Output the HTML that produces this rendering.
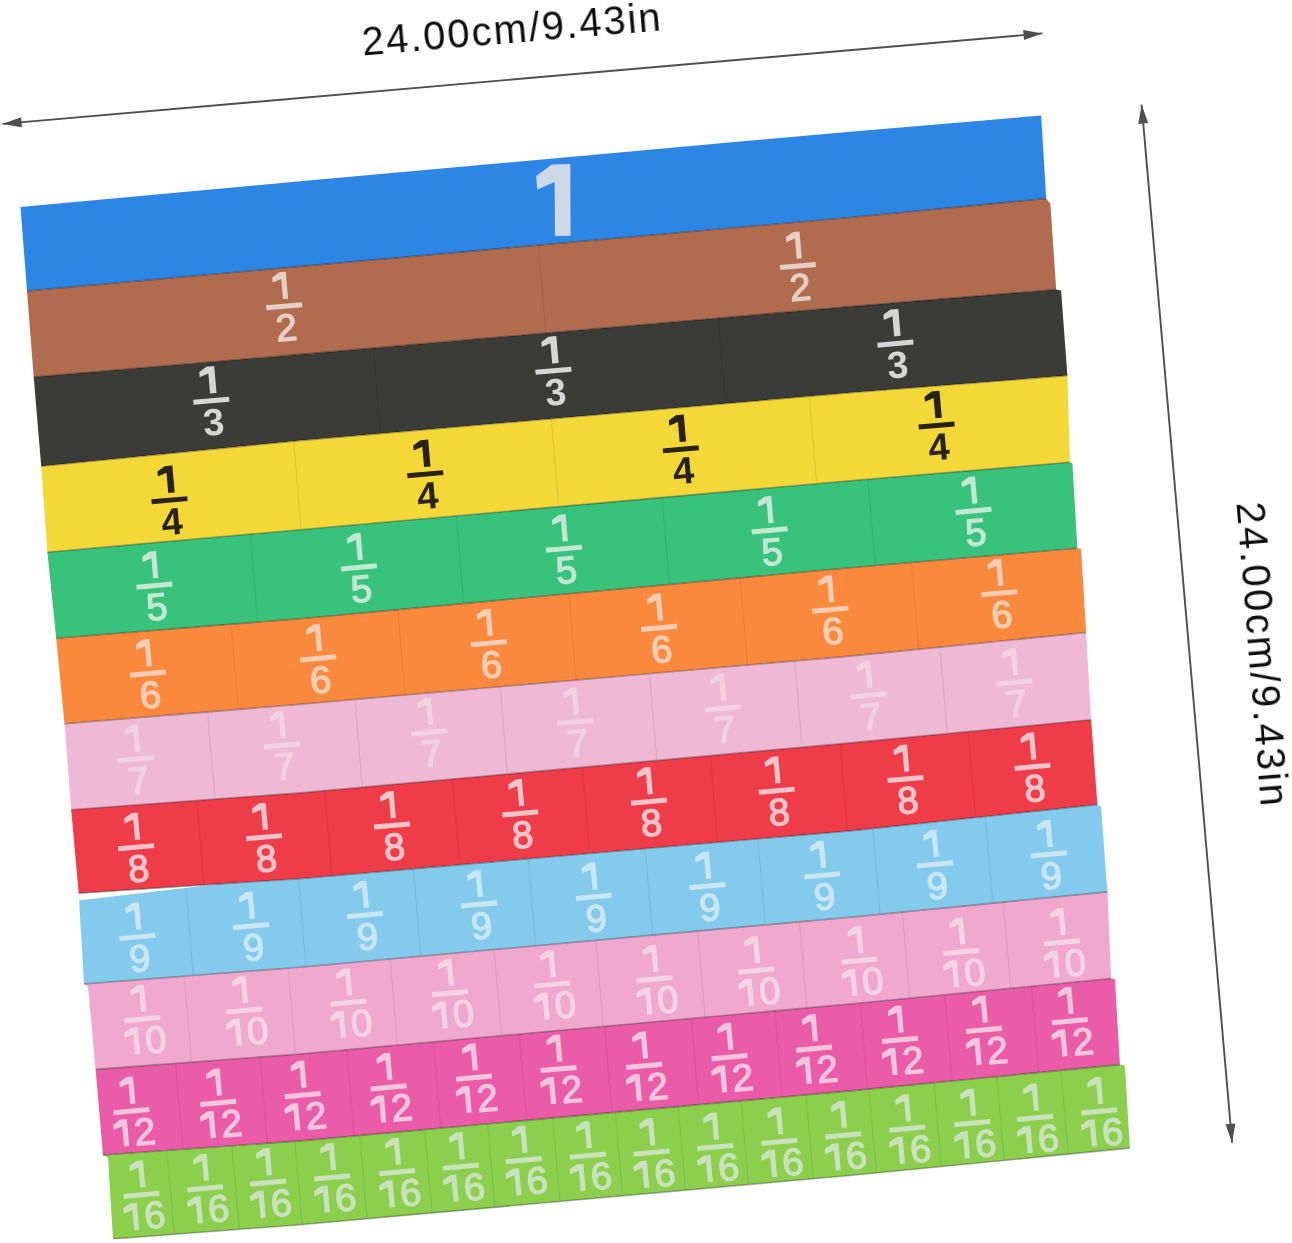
<!DOCTYPE html>
<html><head><meta charset="utf-8"><style>
html,body{margin:0;padding:0;background:#fff;}
body{width:1292px;height:1243px;overflow:hidden;position:relative;}
svg{position:absolute;left:0;top:0;}
text{font-family:"Liberation Sans",sans-serif;}
</style></head><body>
<svg width="1292" height="1243" viewBox="0 0 1292 1243">
<defs><path id="one" d="M0.00 0.00 L5.13 0.00 L5.13 -27.00 L-1.35 -27.00 L-8.91 -22.41 L-8.91 -17.28 L0.00 -20.25Z"/><path id="oneb" d="M0.00 0.00 L6.48 0.00 L6.48 -27.00 L-1.35 -27.00 L-8.91 -22.41 L-8.91 -17.28 L0.00 -20.25Z"/><filter id="soft" x="0" y="0" width="1" height="1"><feGaussianBlur stdDeviation="0.55"/></filter></defs>
<g filter="url(#soft)">

<line x1="2.5" y1="123.9" x2="1042.5" y2="33.4" stroke="#505050" stroke-width="1.9"/>
<polygon points="2.5,123.9 21.9,127.2 21.0,117.3" fill="#505050"/>
<polygon points="1042.5,33.4 1023.1,30.1 1024.0,40.0" fill="#505050"/>
<line x1="1141.6" y1="104.6" x2="1232.1" y2="1142.8" stroke="#505050" stroke-width="1.9"/>
<polygon points="1141.6,104.6 1138.3,124.0 1148.2,123.1" fill="#505050"/>
<polygon points="1232.1,1142.8 1235.4,1123.4 1225.5,1124.3" fill="#505050"/>
<text x="0" y="0" font-size="40" letter-spacing="2.0" fill="#111" transform="translate(363,55.5) rotate(-4.8)">24.00cm/9.43in</text>
<text x="0" y="0" font-size="40" letter-spacing="2.4" fill="#111" transform="translate(1236.5,503) rotate(85.4)">24.00cm/9.43in</text>
<polygon points="20.5,207 300,181.3 850,131.7 1041.2,115.5 1046.2,198.5 850,217.5 300,266.4 27,291" fill="#2f86e4"/>
<polygon points="27,291 300,266.4 850,217.5 1046.2,198.5 1050.4,204 1056.2,289.5 850,306.6 300,354.4 33.7,377" fill="#b16c4f"/>
<polygon points="33.7,377 300,354.4 850,306.6 1056.2,289.5 1061.1,290.5 1067.4,375.6 850,392.8 300,440.6 41.2,466.2" fill="#3b3a38"/>
<polygon points="41.2,466.2 300,440.6 850,392.8 1067.4,375.6 1069.9,462.3 850,480.8 300,529.7 47.4,552.2" fill="#f3d838"/>
<polygon points="47.4,552.2 300,529.7 850,480.8 1069.9,462.3 1072.4,463.3 1077.4,548.3 850,567.7 300,618.7 56.2,638.3" fill="#38c27b"/>
<polygon points="56.2,638.3 300,618.7 850,567.7 1077.4,548.3 1081.1,549 1086.1,632.5 850,656.1 300,704.3 64.5,723.7" fill="#fb893e"/>
<polygon points="64.5,723.7 300,704.3 850,656.1 1086.1,632.5 1091.1,719.8 850,742.9 300,792.9 71.2,809.7" fill="#efb8d4"/>
<polygon points="71.2,809.7 300,792.9 850,742.9 1091.1,719.8 1097.4,804.6 850,830.9 300,878.7 78.7,893.3" fill="#ee3c48"/>
<polygon points="78.7,893.3 300,878.7 850,830.9 1097.4,804.6 1101.1,807 1107.4,891.9 850,917.2 300,967.2 84,984" fill="#84caed"/>
<polygon points="84,984 300,967.2 850,917.2 1107.4,891.9 1111.1,978.5 850,1004 300,1054 95.6,1069.4 88,986.5" fill="#f0a8cf"/>
<polygon points="95.6,1069.4 300,1054 850,1004 1111.1,978.5 1114.9,979 1119.9,1064.6 850,1090.9 300,1140.9 103,1155" fill="#ea5ba8"/>
<polygon points="103,1155 300,1140.9 850,1090.9 1119.9,1064.6 1124.9,1065.2 1129.8,1148.1 850,1175.5 300,1224.8 113,1239 108,1157.4" fill="#8bcf4e"/>
<polygon points="70,894.2 215,884.6 70,901.5" fill="#fff"/>
<polyline points="27,291 300,266.4 850,217.5 1046.2,198.5" fill="none" stroke="#000" stroke-opacity="0.3" stroke-width="1.6"/>
<polygon points="552,164.5 570.3,164 570.6,235.7 555,236 554.6,182 537.3,189.5 536.2,176" fill="#cfd8e6"/>
<line x1="538.3" y1="245.2" x2="545.7" y2="333.0" stroke="#000" stroke-opacity="0.07" stroke-width="1.3"/>
<polyline points="33.7,377 300,354.4 850,306.6 1056.2,289.5" fill="none" stroke="#000" stroke-opacity="0.3" stroke-width="1.6"/>
<g transform="translate(284.2,306.3) rotate(-4.88)" fill="#e6cfc6"><use href="#one" x="-0.6" y="-7.3"/><rect x="-18" y="-2.5" width="36" height="5"/><text x="0.5" y="34.5" font-size="38" stroke="#e6cfc6" stroke-width="1.3" text-anchor="middle">2</text></g>
<g transform="translate(797.9,266.0) rotate(-4.88)" fill="#e6cfc6"><use href="#one" x="-0.6" y="-7.3"/><rect x="-18" y="-2.5" width="36" height="5"/><text x="0.5" y="34.5" font-size="38" stroke="#e6cfc6" stroke-width="1.3" text-anchor="middle">2</text></g>
<line x1="373.3" y1="348.0" x2="380.7" y2="433.6" stroke="#000" stroke-opacity="0.07" stroke-width="1.3"/>
<line x1="718.3" y1="318.0" x2="725.7" y2="403.6" stroke="#000" stroke-opacity="0.07" stroke-width="1.3"/>
<polyline points="41.2,466.2 300,440.6 850,392.8 1067.4,375.6" fill="none" stroke="#000" stroke-opacity="0.3" stroke-width="1.6"/>
<g transform="translate(211.3,400.8) rotate(-4.93)" fill="#d6d6d6"><use href="#oneb" x="-0.6" y="-7.3"/><rect x="-18" y="-2.5" width="36" height="5"/><text x="0.5" y="34.5" font-size="38" font-weight="bold" text-anchor="middle">3</text></g>
<g transform="translate(553.4,370.7) rotate(-4.93)" fill="#d6d6d6"><use href="#oneb" x="-0.6" y="-7.3"/><rect x="-18" y="-2.5" width="36" height="5"/><text x="0.5" y="34.5" font-size="38" font-weight="bold" text-anchor="middle">3</text></g>
<g transform="translate(895.4,343.6) rotate(-4.93)" fill="#d6d6d6"><use href="#oneb" x="-0.6" y="-7.3"/><rect x="-18" y="-2.5" width="36" height="5"/><text x="0.5" y="34.5" font-size="38" font-weight="bold" text-anchor="middle">3</text></g>
<line x1="293.7" y1="441.2" x2="301.1" y2="529.6" stroke="#000" stroke-opacity="0.07" stroke-width="1.3"/>
<line x1="551.3" y1="418.8" x2="558.7" y2="506.7" stroke="#000" stroke-opacity="0.07" stroke-width="1.3"/>
<line x1="809.3" y1="396.3" x2="816.7" y2="483.8" stroke="#000" stroke-opacity="0.07" stroke-width="1.3"/>
<polyline points="47.4,552.2 300,529.7 850,480.8 1069.9,462.3" fill="none" stroke="#000" stroke-opacity="0.3" stroke-width="1.6"/>
<g transform="translate(169.5,500.2) rotate(-5.02)" fill="#2a2418"><use href="#oneb" x="-0.6" y="-7.3"/><rect x="-18" y="-2.5" width="36" height="5"/><text x="0.5" y="34.5" font-size="38" font-weight="bold" text-anchor="middle">4</text></g>
<g transform="translate(425.3,474.2) rotate(-5.02)" fill="#2a2418"><use href="#oneb" x="-0.6" y="-7.3"/><rect x="-18" y="-2.5" width="36" height="5"/><text x="0.5" y="34.5" font-size="38" font-weight="bold" text-anchor="middle">4</text></g>
<g transform="translate(680.9,449.3) rotate(-5.02)" fill="#2a2418"><use href="#oneb" x="-0.6" y="-7.3"/><rect x="-18" y="-2.5" width="36" height="5"/><text x="0.5" y="34.5" font-size="38" font-weight="bold" text-anchor="middle">4</text></g>
<g transform="translate(936.6,425.5) rotate(-5.02)" fill="#2a2418"><use href="#oneb" x="-0.6" y="-7.3"/><rect x="-18" y="-2.5" width="36" height="5"/><text x="0.5" y="34.5" font-size="38" font-weight="bold" text-anchor="middle">4</text></g>
<line x1="250.3" y1="534.1" x2="257.7" y2="622.1" stroke="#000" stroke-opacity="0.07" stroke-width="1.3"/>
<line x1="456.3" y1="515.8" x2="463.7" y2="603.5" stroke="#000" stroke-opacity="0.07" stroke-width="1.3"/>
<line x1="662.0" y1="497.5" x2="669.4" y2="584.4" stroke="#000" stroke-opacity="0.07" stroke-width="1.3"/>
<line x1="867.9" y1="479.3" x2="875.3" y2="565.5" stroke="#000" stroke-opacity="0.07" stroke-width="1.3"/>
<polyline points="56.2,638.3 300,618.7 850,567.7 1077.4,548.3" fill="none" stroke="#000" stroke-opacity="0.3" stroke-width="1.6"/>
<g transform="translate(154.4,585.6) rotate(-5.00)" fill="#c2e8d2"><use href="#one" x="-0.6" y="-7.3"/><rect x="-18" y="-2.5" width="36" height="5"/><text x="0.5" y="34.5" font-size="38" stroke="#c2e8d2" stroke-width="1.3" text-anchor="middle">5</text></g>
<g transform="translate(359.0,567.4) rotate(-5.00)" fill="#c2e8d2"><use href="#one" x="-0.6" y="-7.3"/><rect x="-18" y="-2.5" width="36" height="5"/><text x="0.5" y="34.5" font-size="38" stroke="#c2e8d2" stroke-width="1.3" text-anchor="middle">5</text></g>
<g transform="translate(564.0,548.7) rotate(-5.00)" fill="#c2e8d2"><use href="#one" x="-0.6" y="-7.3"/><rect x="-18" y="-2.5" width="36" height="5"/><text x="0.5" y="34.5" font-size="38" stroke="#c2e8d2" stroke-width="1.3" text-anchor="middle">5</text></g>
<g transform="translate(769.7,530.4) rotate(-5.00)" fill="#c2e8d2"><use href="#one" x="-0.6" y="-7.3"/><rect x="-18" y="-2.5" width="36" height="5"/><text x="0.5" y="34.5" font-size="38" stroke="#c2e8d2" stroke-width="1.3" text-anchor="middle">5</text></g>
<g transform="translate(973.5,510.9) rotate(-5.00)" fill="#c2e8d2"><use href="#one" x="-0.6" y="-7.3"/><rect x="-18" y="-2.5" width="36" height="5"/><text x="0.5" y="34.5" font-size="38" stroke="#c2e8d2" stroke-width="1.3" text-anchor="middle">5</text></g>
<line x1="230.9" y1="624.3" x2="238.3" y2="709.4" stroke="#000" stroke-opacity="0.07" stroke-width="1.3"/>
<line x1="397.7" y1="609.6" x2="405.1" y2="695.1" stroke="#000" stroke-opacity="0.07" stroke-width="1.3"/>
<line x1="568.8" y1="593.8" x2="576.2" y2="680.1" stroke="#000" stroke-opacity="0.07" stroke-width="1.3"/>
<line x1="740.0" y1="577.9" x2="747.4" y2="665.1" stroke="#000" stroke-opacity="0.07" stroke-width="1.3"/>
<line x1="911.3" y1="562.5" x2="918.7" y2="649.2" stroke="#000" stroke-opacity="0.07" stroke-width="1.3"/>
<polyline points="64.5,723.7 300,704.3 850,656.1 1086.1,632.5" fill="none" stroke="#000" stroke-opacity="0.3" stroke-width="1.6"/>
<g transform="translate(147.9,673.6) rotate(-5.04)" fill="#f9cdb3"><use href="#one" x="-0.6" y="-7.3"/><rect x="-18" y="-2.5" width="36" height="5"/><text x="0.5" y="34.5" font-size="38" stroke="#f9cdb3" stroke-width="1.3" text-anchor="middle">6</text></g>
<g transform="translate(318.2,658.4) rotate(-5.04)" fill="#f9cdb3"><use href="#one" x="-0.6" y="-7.3"/><rect x="-18" y="-2.5" width="36" height="5"/><text x="0.5" y="34.5" font-size="38" stroke="#f9cdb3" stroke-width="1.3" text-anchor="middle">6</text></g>
<g transform="translate(489.0,643.2) rotate(-5.04)" fill="#f9cdb3"><use href="#one" x="-0.6" y="-7.3"/><rect x="-18" y="-2.5" width="36" height="5"/><text x="0.5" y="34.5" font-size="38" stroke="#f9cdb3" stroke-width="1.3" text-anchor="middle">6</text></g>
<g transform="translate(659.2,627.9) rotate(-5.04)" fill="#f9cdb3"><use href="#one" x="-0.6" y="-7.3"/><rect x="-18" y="-2.5" width="36" height="5"/><text x="0.5" y="34.5" font-size="38" stroke="#f9cdb3" stroke-width="1.3" text-anchor="middle">6</text></g>
<g transform="translate(830.4,609.7) rotate(-5.04)" fill="#f9cdb3"><use href="#one" x="-0.6" y="-7.3"/><rect x="-18" y="-2.5" width="36" height="5"/><text x="0.5" y="34.5" font-size="38" stroke="#f9cdb3" stroke-width="1.3" text-anchor="middle">6</text></g>
<g transform="translate(999.5,593.2) rotate(-5.04)" fill="#f9cdb3"><use href="#one" x="-0.6" y="-7.3"/><rect x="-18" y="-2.5" width="36" height="5"/><text x="0.5" y="34.5" font-size="38" stroke="#f9cdb3" stroke-width="1.3" text-anchor="middle">6</text></g>
<line x1="207.5" y1="711.9" x2="214.9" y2="799.1" stroke="#000" stroke-opacity="0.07" stroke-width="1.3"/>
<line x1="354.9" y1="699.5" x2="362.3" y2="787.2" stroke="#000" stroke-opacity="0.07" stroke-width="1.3"/>
<line x1="500.1" y1="686.8" x2="507.5" y2="774.0" stroke="#000" stroke-opacity="0.07" stroke-width="1.3"/>
<line x1="649.5" y1="673.7" x2="656.9" y2="760.5" stroke="#000" stroke-opacity="0.07" stroke-width="1.3"/>
<line x1="794.7" y1="660.9" x2="802.1" y2="747.3" stroke="#000" stroke-opacity="0.07" stroke-width="1.3"/>
<line x1="939.9" y1="647.1" x2="947.3" y2="733.6" stroke="#000" stroke-opacity="0.07" stroke-width="1.3"/>
<polyline points="71.2,809.7 300,792.9 850,742.9 1091.1,719.8" fill="none" stroke="#000" stroke-opacity="0.3" stroke-width="1.6"/>
<g transform="translate(136.2,759.2) rotate(-5.06)" fill="#f2d1e3"><use href="#one" x="-0.6" y="-7.3"/><rect x="-18" y="-2.5" width="36" height="5"/><text x="0.5" y="34.5" font-size="38" stroke="#f2d1e3" stroke-width="1.3" text-anchor="middle">7</text></g>
<g transform="translate(281.9,745.3) rotate(-5.06)" fill="#f2d1e3"><use href="#one" x="-0.6" y="-7.3"/><rect x="-18" y="-2.5" width="36" height="5"/><text x="0.5" y="34.5" font-size="38" stroke="#f2d1e3" stroke-width="1.3" text-anchor="middle">7</text></g>
<g transform="translate(429.3,732.3) rotate(-5.06)" fill="#f2d1e3"><use href="#one" x="-0.6" y="-7.3"/><rect x="-18" y="-2.5" width="36" height="5"/><text x="0.5" y="34.5" font-size="38" stroke="#f2d1e3" stroke-width="1.3" text-anchor="middle">7</text></g>
<g transform="translate(575.2,722.0) rotate(-5.06)" fill="#f2d1e3"><use href="#one" x="-0.6" y="-7.3"/><rect x="-18" y="-2.5" width="36" height="5"/><text x="0.5" y="34.5" font-size="38" stroke="#f2d1e3" stroke-width="1.3" text-anchor="middle">7</text></g>
<g transform="translate(722.5,708.4) rotate(-5.06)" fill="#f2d1e3"><use href="#one" x="-0.6" y="-7.3"/><rect x="-18" y="-2.5" width="36" height="5"/><text x="0.5" y="34.5" font-size="38" stroke="#f2d1e3" stroke-width="1.3" text-anchor="middle">7</text></g>
<g transform="translate(868.6,695.4) rotate(-5.06)" fill="#f2d1e3"><use href="#one" x="-0.6" y="-7.3"/><rect x="-18" y="-2.5" width="36" height="5"/><text x="0.5" y="34.5" font-size="38" stroke="#f2d1e3" stroke-width="1.3" text-anchor="middle">7</text></g>
<g transform="translate(1014.3,682.4) rotate(-5.06)" fill="#f2d1e3"><use href="#one" x="-0.6" y="-7.3"/><rect x="-18" y="-2.5" width="36" height="5"/><text x="0.5" y="34.5" font-size="38" stroke="#f2d1e3" stroke-width="1.3" text-anchor="middle">7</text></g>
<line x1="196.7" y1="800.5" x2="204.1" y2="885.0" stroke="#000" stroke-opacity="0.07" stroke-width="1.3"/>
<line x1="324.6" y1="790.7" x2="332.0" y2="875.9" stroke="#000" stroke-opacity="0.07" stroke-width="1.3"/>
<line x1="452.4" y1="779.0" x2="459.8" y2="864.8" stroke="#000" stroke-opacity="0.07" stroke-width="1.3"/>
<line x1="582.3" y1="767.2" x2="589.7" y2="853.5" stroke="#000" stroke-opacity="0.07" stroke-width="1.3"/>
<line x1="710.2" y1="755.6" x2="717.6" y2="842.4" stroke="#000" stroke-opacity="0.07" stroke-width="1.3"/>
<line x1="840.2" y1="743.8" x2="847.6" y2="831.1" stroke="#000" stroke-opacity="0.07" stroke-width="1.3"/>
<line x1="968.1" y1="731.6" x2="975.5" y2="817.6" stroke="#000" stroke-opacity="0.07" stroke-width="1.3"/>
<polyline points="78.7,893.3 300,878.7 850,830.9 1097.4,804.6" fill="none" stroke="#000" stroke-opacity="0.3" stroke-width="1.6"/>
<g transform="translate(136.2,847.2) rotate(-4.99)" fill="#f4c4ca"><use href="#one" x="-0.6" y="-7.3"/><rect x="-18" y="-2.5" width="36" height="5"/><text x="0.5" y="34.5" font-size="38" stroke="#f4c4ca" stroke-width="1.3" text-anchor="middle">8</text></g>
<g transform="translate(264.1,837.2) rotate(-4.99)" fill="#f4c4ca"><use href="#one" x="-0.6" y="-7.3"/><rect x="-18" y="-2.5" width="36" height="5"/><text x="0.5" y="34.5" font-size="38" stroke="#f4c4ca" stroke-width="1.3" text-anchor="middle">8</text></g>
<g transform="translate(392.0,825.5) rotate(-4.99)" fill="#f4c4ca"><use href="#one" x="-0.6" y="-7.3"/><rect x="-18" y="-2.5" width="36" height="5"/><text x="0.5" y="34.5" font-size="38" stroke="#f4c4ca" stroke-width="1.3" text-anchor="middle">8</text></g>
<g transform="translate(520.3,813.4) rotate(-4.99)" fill="#f4c4ca"><use href="#one" x="-0.6" y="-7.3"/><rect x="-18" y="-2.5" width="36" height="5"/><text x="0.5" y="34.5" font-size="38" stroke="#f4c4ca" stroke-width="1.3" text-anchor="middle">8</text></g>
<g transform="translate(648.9,801.6) rotate(-4.99)" fill="#f4c4ca"><use href="#one" x="-0.6" y="-7.3"/><rect x="-18" y="-2.5" width="36" height="5"/><text x="0.5" y="34.5" font-size="38" stroke="#f4c4ca" stroke-width="1.3" text-anchor="middle">8</text></g>
<g transform="translate(776.7,790.7) rotate(-4.99)" fill="#f4c4ca"><use href="#one" x="-0.6" y="-7.3"/><rect x="-18" y="-2.5" width="36" height="5"/><text x="0.5" y="34.5" font-size="38" stroke="#f4c4ca" stroke-width="1.3" text-anchor="middle">8</text></g>
<g transform="translate(905.5,779.0) rotate(-4.99)" fill="#f4c4ca"><use href="#one" x="-0.6" y="-7.3"/><rect x="-18" y="-2.5" width="36" height="5"/><text x="0.5" y="34.5" font-size="38" stroke="#f4c4ca" stroke-width="1.3" text-anchor="middle">8</text></g>
<g transform="translate(1032.5,766.9) rotate(-4.99)" fill="#f4c4ca"><use href="#one" x="-0.6" y="-7.3"/><rect x="-18" y="-2.5" width="36" height="5"/><text x="0.5" y="34.5" font-size="38" stroke="#f4c4ca" stroke-width="1.3" text-anchor="middle">8</text></g>
<line x1="185.8" y1="886.2" x2="193.2" y2="975.5" stroke="#000" stroke-opacity="0.07" stroke-width="1.3"/>
<line x1="298.5" y1="878.8" x2="305.9" y2="966.7" stroke="#000" stroke-opacity="0.07" stroke-width="1.3"/>
<line x1="413.4" y1="868.8" x2="420.8" y2="956.2" stroke="#000" stroke-opacity="0.07" stroke-width="1.3"/>
<line x1="528.3" y1="858.9" x2="535.7" y2="945.8" stroke="#000" stroke-opacity="0.07" stroke-width="1.3"/>
<line x1="645.2" y1="848.7" x2="652.6" y2="935.1" stroke="#000" stroke-opacity="0.07" stroke-width="1.3"/>
<line x1="757.9" y1="838.9" x2="765.3" y2="924.9" stroke="#000" stroke-opacity="0.07" stroke-width="1.3"/>
<line x1="872.7" y1="828.5" x2="880.1" y2="914.2" stroke="#000" stroke-opacity="0.07" stroke-width="1.3"/>
<line x1="985.4" y1="816.5" x2="992.8" y2="903.2" stroke="#000" stroke-opacity="0.07" stroke-width="1.3"/>
<polyline points="84,984 300,967.2 850,917.2 1107.4,891.9" fill="none" stroke="#000" stroke-opacity="0.3" stroke-width="1.6"/>
<g transform="translate(137.5,937.0) rotate(-5.20)" fill="#c9e6f4"><use href="#one" x="-0.6" y="-7.3"/><rect x="-18" y="-2.5" width="36" height="5"/><text x="0.5" y="34.5" font-size="38" stroke="#c9e6f4" stroke-width="1.3" text-anchor="middle">9</text></g>
<g transform="translate(251.1,926.1) rotate(-5.20)" fill="#c9e6f4"><use href="#one" x="-0.6" y="-7.3"/><rect x="-18" y="-2.5" width="36" height="5"/><text x="0.5" y="34.5" font-size="38" stroke="#c9e6f4" stroke-width="1.3" text-anchor="middle">9</text></g>
<g transform="translate(365.1,915.2) rotate(-5.20)" fill="#c9e6f4"><use href="#one" x="-0.6" y="-7.3"/><rect x="-18" y="-2.5" width="36" height="5"/><text x="0.5" y="34.5" font-size="38" stroke="#c9e6f4" stroke-width="1.3" text-anchor="middle">9</text></g>
<g transform="translate(479.1,904.4) rotate(-5.20)" fill="#c9e6f4"><use href="#one" x="-0.6" y="-7.3"/><rect x="-18" y="-2.5" width="36" height="5"/><text x="0.5" y="34.5" font-size="38" stroke="#c9e6f4" stroke-width="1.3" text-anchor="middle">9</text></g>
<g transform="translate(593.8,896.9) rotate(-5.20)" fill="#c9e6f4"><use href="#one" x="-0.6" y="-7.3"/><rect x="-18" y="-2.5" width="36" height="5"/><text x="0.5" y="34.5" font-size="38" stroke="#c9e6f4" stroke-width="1.3" text-anchor="middle">9</text></g>
<g transform="translate(707.4,886.1) rotate(-5.20)" fill="#c9e6f4"><use href="#one" x="-0.6" y="-7.3"/><rect x="-18" y="-2.5" width="36" height="5"/><text x="0.5" y="34.5" font-size="38" stroke="#c9e6f4" stroke-width="1.3" text-anchor="middle">9</text></g>
<g transform="translate(822.2,875.3) rotate(-5.20)" fill="#c9e6f4"><use href="#one" x="-0.6" y="-7.3"/><rect x="-18" y="-2.5" width="36" height="5"/><text x="0.5" y="34.5" font-size="38" stroke="#c9e6f4" stroke-width="1.3" text-anchor="middle">9</text></g>
<g transform="translate(935.0,864.4) rotate(-5.20)" fill="#c9e6f4"><use href="#one" x="-0.6" y="-7.3"/><rect x="-18" y="-2.5" width="36" height="5"/><text x="0.5" y="34.5" font-size="38" stroke="#c9e6f4" stroke-width="1.3" text-anchor="middle">9</text></g>
<g transform="translate(1049.0,854.4) rotate(-5.20)" fill="#c9e6f4"><use href="#one" x="-0.6" y="-7.3"/><rect x="-18" y="-2.5" width="36" height="5"/><text x="0.5" y="34.5" font-size="38" stroke="#c9e6f4" stroke-width="1.3" text-anchor="middle">9</text></g>
<line x1="184.2" y1="976.2" x2="191.6" y2="1062.2" stroke="#000" stroke-opacity="0.07" stroke-width="1.3"/>
<line x1="288.2" y1="968.1" x2="295.6" y2="1054.3" stroke="#000" stroke-opacity="0.07" stroke-width="1.3"/>
<line x1="390.1" y1="959.0" x2="397.5" y2="1045.1" stroke="#000" stroke-opacity="0.07" stroke-width="1.3"/>
<line x1="494.1" y1="949.6" x2="501.5" y2="1035.7" stroke="#000" stroke-opacity="0.07" stroke-width="1.3"/>
<line x1="595.9" y1="940.3" x2="603.3" y2="1026.4" stroke="#000" stroke-opacity="0.07" stroke-width="1.3"/>
<line x1="697.7" y1="931.0" x2="705.1" y2="1017.2" stroke="#000" stroke-opacity="0.07" stroke-width="1.3"/>
<line x1="799.5" y1="921.8" x2="806.9" y2="1007.9" stroke="#000" stroke-opacity="0.07" stroke-width="1.3"/>
<line x1="902.3" y1="912.1" x2="909.7" y2="998.2" stroke="#000" stroke-opacity="0.07" stroke-width="1.3"/>
<line x1="1003.3" y1="902.1" x2="1010.7" y2="988.3" stroke="#000" stroke-opacity="0.07" stroke-width="1.3"/>
<polyline points="95.6,1069.4 300,1054 850,1004 1111.1,978.5" fill="none" stroke="#000" stroke-opacity="0.3" stroke-width="1.6"/>
<g transform="translate(142.4,1019.2) rotate(-5.16)" fill="#f3d3e5"><use href="#one" x="-0.6" y="-7.3"/><rect x="-18" y="-2.5" width="36" height="5"/><use href="#one" x="-10.5" y="34.5" transform="scale(1)"/><text x="11.5" y="34.5" font-size="38" stroke="#f3d3e5" stroke-width="1.3" text-anchor="middle">0</text></g>
<g transform="translate(244.2,1010.5) rotate(-5.16)" fill="#f3d3e5"><use href="#one" x="-0.6" y="-7.3"/><rect x="-18" y="-2.5" width="36" height="5"/><use href="#one" x="-10.5" y="34.5" transform="scale(1)"/><text x="11.5" y="34.5" font-size="38" stroke="#f3d3e5" stroke-width="1.3" text-anchor="middle">0</text></g>
<g transform="translate(348.3,1002.7) rotate(-5.16)" fill="#f3d3e5"><use href="#one" x="-0.6" y="-7.3"/><rect x="-18" y="-2.5" width="36" height="5"/><use href="#one" x="-10.5" y="34.5" transform="scale(1)"/><text x="11.5" y="34.5" font-size="38" stroke="#f3d3e5" stroke-width="1.3" text-anchor="middle">0</text></g>
<g transform="translate(450.1,993.2) rotate(-5.16)" fill="#f3d3e5"><use href="#one" x="-0.6" y="-7.3"/><rect x="-18" y="-2.5" width="36" height="5"/><use href="#one" x="-10.5" y="34.5" transform="scale(1)"/><text x="11.5" y="34.5" font-size="38" stroke="#f3d3e5" stroke-width="1.3" text-anchor="middle">0</text></g>
<g transform="translate(552.0,984.5) rotate(-5.16)" fill="#f3d3e5"><use href="#one" x="-0.6" y="-7.3"/><rect x="-18" y="-2.5" width="36" height="5"/><use href="#one" x="-10.5" y="34.5" transform="scale(1)"/><text x="11.5" y="34.5" font-size="38" stroke="#f3d3e5" stroke-width="1.3" text-anchor="middle">0</text></g>
<g transform="translate(654.6,979.2) rotate(-5.16)" fill="#f3d3e5"><use href="#one" x="-0.6" y="-7.3"/><rect x="-18" y="-2.5" width="36" height="5"/><use href="#one" x="-10.5" y="34.5" transform="scale(1)"/><text x="11.5" y="34.5" font-size="38" stroke="#f3d3e5" stroke-width="1.3" text-anchor="middle">0</text></g>
<g transform="translate(756.4,970.5) rotate(-5.16)" fill="#f3d3e5"><use href="#one" x="-0.6" y="-7.3"/><rect x="-18" y="-2.5" width="36" height="5"/><use href="#one" x="-10.5" y="34.5" transform="scale(1)"/><text x="11.5" y="34.5" font-size="38" stroke="#f3d3e5" stroke-width="1.3" text-anchor="middle">0</text></g>
<g transform="translate(859.6,960.6) rotate(-5.16)" fill="#f3d3e5"><use href="#one" x="-0.6" y="-7.3"/><rect x="-18" y="-2.5" width="36" height="5"/><use href="#one" x="-10.5" y="34.5" transform="scale(1)"/><text x="11.5" y="34.5" font-size="38" stroke="#f3d3e5" stroke-width="1.3" text-anchor="middle">0</text></g>
<g transform="translate(961.4,951.9) rotate(-5.16)" fill="#f3d3e5"><use href="#one" x="-0.6" y="-7.3"/><rect x="-18" y="-2.5" width="36" height="5"/><use href="#one" x="-10.5" y="34.5" transform="scale(1)"/><text x="11.5" y="34.5" font-size="38" stroke="#f3d3e5" stroke-width="1.3" text-anchor="middle">0</text></g>
<g transform="translate(1062.0,942.4) rotate(-5.16)" fill="#f3d3e5"><use href="#one" x="-0.6" y="-7.3"/><rect x="-18" y="-2.5" width="36" height="5"/><use href="#one" x="-10.5" y="34.5" transform="scale(1)"/><text x="11.5" y="34.5" font-size="38" stroke="#f3d3e5" stroke-width="1.3" text-anchor="middle">0</text></g>
<line x1="175.5" y1="1063.4" x2="182.9" y2="1149.3" stroke="#000" stroke-opacity="0.07" stroke-width="1.3"/>
<line x1="260.0" y1="1057.0" x2="267.4" y2="1143.2" stroke="#000" stroke-opacity="0.07" stroke-width="1.3"/>
<line x1="346.7" y1="1049.8" x2="354.1" y2="1136.0" stroke="#000" stroke-opacity="0.07" stroke-width="1.3"/>
<line x1="433.4" y1="1041.9" x2="440.8" y2="1128.1" stroke="#000" stroke-opacity="0.07" stroke-width="1.3"/>
<line x1="519.2" y1="1034.1" x2="526.6" y2="1120.3" stroke="#000" stroke-opacity="0.07" stroke-width="1.3"/>
<line x1="604.5" y1="1026.3" x2="611.9" y2="1112.5" stroke="#000" stroke-opacity="0.07" stroke-width="1.3"/>
<line x1="691.2" y1="1018.4" x2="698.6" y2="1104.7" stroke="#000" stroke-opacity="0.07" stroke-width="1.3"/>
<line x1="774.8" y1="1010.8" x2="782.2" y2="1097.1" stroke="#000" stroke-opacity="0.07" stroke-width="1.3"/>
<line x1="860.2" y1="1003.0" x2="867.6" y2="1089.2" stroke="#000" stroke-opacity="0.07" stroke-width="1.3"/>
<line x1="944.7" y1="994.8" x2="952.1" y2="1081.0" stroke="#000" stroke-opacity="0.07" stroke-width="1.3"/>
<line x1="1031.4" y1="986.3" x2="1038.8" y2="1072.5" stroke="#000" stroke-opacity="0.07" stroke-width="1.3"/>
<polyline points="103,1155 300,1140.9 850,1090.9 1119.9,1064.6" fill="none" stroke="#000" stroke-opacity="0.3" stroke-width="1.6"/>
<g transform="translate(131.5,1111.1) rotate(-5.07)" fill="#f4c6de"><use href="#one" x="-0.6" y="-7.3"/><rect x="-18" y="-2.5" width="36" height="5"/><use href="#one" x="-10.5" y="34.5" transform="scale(1)"/><text x="11.5" y="34.5" font-size="38" stroke="#f4c6de" stroke-width="1.3" text-anchor="middle">2</text></g>
<g transform="translate(218.2,1102.9) rotate(-5.07)" fill="#f4c6de"><use href="#one" x="-0.6" y="-7.3"/><rect x="-18" y="-2.5" width="36" height="5"/><use href="#one" x="-10.5" y="34.5" transform="scale(1)"/><text x="11.5" y="34.5" font-size="38" stroke="#f4c6de" stroke-width="1.3" text-anchor="middle">2</text></g>
<g transform="translate(302.7,1095.1) rotate(-5.07)" fill="#f4c6de"><use href="#one" x="-0.6" y="-7.3"/><rect x="-18" y="-2.5" width="36" height="5"/><use href="#one" x="-10.5" y="34.5" transform="scale(1)"/><text x="11.5" y="34.5" font-size="38" stroke="#f4c6de" stroke-width="1.3" text-anchor="middle">2</text></g>
<g transform="translate(388.6,1087.3) rotate(-5.07)" fill="#f4c6de"><use href="#one" x="-0.6" y="-7.3"/><rect x="-18" y="-2.5" width="36" height="5"/><use href="#one" x="-10.5" y="34.5" transform="scale(1)"/><text x="11.5" y="34.5" font-size="38" stroke="#f4c6de" stroke-width="1.3" text-anchor="middle">2</text></g>
<g transform="translate(474.0,1077.7) rotate(-5.07)" fill="#f4c6de"><use href="#one" x="-0.6" y="-7.3"/><rect x="-18" y="-2.5" width="36" height="5"/><use href="#one" x="-10.5" y="34.5" transform="scale(1)"/><text x="11.5" y="34.5" font-size="38" stroke="#f4c6de" stroke-width="1.3" text-anchor="middle">2</text></g>
<g transform="translate(558.5,1069.0) rotate(-5.07)" fill="#f4c6de"><use href="#one" x="-0.6" y="-7.3"/><rect x="-18" y="-2.5" width="36" height="5"/><use href="#one" x="-10.5" y="34.5" transform="scale(1)"/><text x="11.5" y="34.5" font-size="38" stroke="#f4c6de" stroke-width="1.3" text-anchor="middle">2</text></g>
<g transform="translate(644.2,1065.9) rotate(-5.07)" fill="#f4c6de"><use href="#one" x="-0.6" y="-7.3"/><rect x="-18" y="-2.5" width="36" height="5"/><use href="#one" x="-10.5" y="34.5" transform="scale(1)"/><text x="11.5" y="34.5" font-size="38" stroke="#f4c6de" stroke-width="1.3" text-anchor="middle">2</text></g>
<g transform="translate(729.5,1057.2) rotate(-5.07)" fill="#f4c6de"><use href="#one" x="-0.6" y="-7.3"/><rect x="-18" y="-2.5" width="36" height="5"/><use href="#one" x="-10.5" y="34.5" transform="scale(1)"/><text x="11.5" y="34.5" font-size="38" stroke="#f4c6de" stroke-width="1.3" text-anchor="middle">2</text></g>
<g transform="translate(814.1,1048.6) rotate(-5.07)" fill="#f4c6de"><use href="#one" x="-0.6" y="-7.3"/><rect x="-18" y="-2.5" width="36" height="5"/><use href="#one" x="-10.5" y="34.5" transform="scale(1)"/><text x="11.5" y="34.5" font-size="38" stroke="#f4c6de" stroke-width="1.3" text-anchor="middle">2</text></g>
<g transform="translate(899.9,1039.9) rotate(-5.07)" fill="#f4c6de"><use href="#one" x="-0.6" y="-7.3"/><rect x="-18" y="-2.5" width="36" height="5"/><use href="#one" x="-10.5" y="34.5" transform="scale(1)"/><text x="11.5" y="34.5" font-size="38" stroke="#f4c6de" stroke-width="1.3" text-anchor="middle">2</text></g>
<g transform="translate(984.0,1029.9) rotate(-5.07)" fill="#f4c6de"><use href="#one" x="-0.6" y="-7.3"/><rect x="-18" y="-2.5" width="36" height="5"/><use href="#one" x="-10.5" y="34.5" transform="scale(1)"/><text x="11.5" y="34.5" font-size="38" stroke="#f4c6de" stroke-width="1.3" text-anchor="middle">2</text></g>
<g transform="translate(1069.8,1021.2) rotate(-5.07)" fill="#f4c6de"><use href="#one" x="-0.6" y="-7.3"/><rect x="-18" y="-2.5" width="36" height="5"/><use href="#one" x="-10.5" y="34.5" transform="scale(1)"/><text x="11.5" y="34.5" font-size="38" stroke="#f4c6de" stroke-width="1.3" text-anchor="middle">2</text></g>
<line x1="166.8" y1="1150.4" x2="174.2" y2="1234.4" stroke="#000" stroke-opacity="0.07" stroke-width="1.3"/>
<line x1="231.8" y1="1145.8" x2="239.2" y2="1229.4" stroke="#000" stroke-opacity="0.07" stroke-width="1.3"/>
<line x1="294.7" y1="1141.3" x2="302.1" y2="1224.6" stroke="#000" stroke-opacity="0.07" stroke-width="1.3"/>
<line x1="359.7" y1="1135.5" x2="367.1" y2="1218.8" stroke="#000" stroke-opacity="0.07" stroke-width="1.3"/>
<line x1="424.7" y1="1129.6" x2="432.1" y2="1213.0" stroke="#000" stroke-opacity="0.07" stroke-width="1.3"/>
<line x1="487.6" y1="1123.8" x2="495.0" y2="1207.3" stroke="#000" stroke-opacity="0.07" stroke-width="1.3"/>
<line x1="552.6" y1="1117.9" x2="560.0" y2="1201.5" stroke="#000" stroke-opacity="0.07" stroke-width="1.3"/>
<line x1="615.3" y1="1112.2" x2="622.7" y2="1195.9" stroke="#000" stroke-opacity="0.07" stroke-width="1.3"/>
<line x1="678.2" y1="1106.5" x2="685.6" y2="1190.2" stroke="#000" stroke-opacity="0.07" stroke-width="1.3"/>
<line x1="741.0" y1="1100.8" x2="748.4" y2="1184.6" stroke="#000" stroke-opacity="0.07" stroke-width="1.3"/>
<line x1="806.0" y1="1094.9" x2="813.4" y2="1178.8" stroke="#000" stroke-opacity="0.07" stroke-width="1.3"/>
<line x1="868.9" y1="1089.1" x2="876.3" y2="1172.9" stroke="#000" stroke-opacity="0.07" stroke-width="1.3"/>
<line x1="933.9" y1="1082.7" x2="941.3" y2="1166.6" stroke="#000" stroke-opacity="0.07" stroke-width="1.3"/>
<line x1="996.8" y1="1076.6" x2="1004.2" y2="1160.4" stroke="#000" stroke-opacity="0.07" stroke-width="1.3"/>
<line x1="1060.9" y1="1070.3" x2="1068.3" y2="1154.1" stroke="#000" stroke-opacity="0.07" stroke-width="1.3"/>
<polyline points="113,1239 300,1224.8 850,1175.5 1129.8,1148.1" fill="none" stroke="#000" stroke-opacity="0.3" stroke-width="1.6"/>
<g transform="translate(141.5,1194.8) rotate(-5.14)" fill="#c9e2bb"><use href="#one" x="-0.6" y="-7.3"/><rect x="-18" y="-2.5" width="36" height="5"/><use href="#one" x="-10.5" y="34.5" transform="scale(1)"/><text x="11.5" y="34.5" font-size="38" stroke="#c9e2bb" stroke-width="1.3" text-anchor="middle">6</text></g>
<g transform="translate(205.2,1188.3) rotate(-5.14)" fill="#c9e2bb"><use href="#one" x="-0.6" y="-7.3"/><rect x="-18" y="-2.5" width="36" height="5"/><use href="#one" x="-10.5" y="34.5" transform="scale(1)"/><text x="11.5" y="34.5" font-size="38" stroke="#c9e2bb" stroke-width="1.3" text-anchor="middle">6</text></g>
<g transform="translate(268.1,1182.6) rotate(-5.14)" fill="#c9e2bb"><use href="#one" x="-0.6" y="-7.3"/><rect x="-18" y="-2.5" width="36" height="5"/><use href="#one" x="-10.5" y="34.5" transform="scale(1)"/><text x="11.5" y="34.5" font-size="38" stroke="#c9e2bb" stroke-width="1.3" text-anchor="middle">6</text></g>
<g transform="translate(332.2,1177.4) rotate(-5.14)" fill="#c9e2bb"><use href="#one" x="-0.6" y="-7.3"/><rect x="-18" y="-2.5" width="36" height="5"/><use href="#one" x="-10.5" y="34.5" transform="scale(1)"/><text x="11.5" y="34.5" font-size="38" stroke="#c9e2bb" stroke-width="1.3" text-anchor="middle">6</text></g>
<g transform="translate(397.2,1172.2) rotate(-5.14)" fill="#c9e2bb"><use href="#one" x="-0.6" y="-7.3"/><rect x="-18" y="-2.5" width="36" height="5"/><use href="#one" x="-10.5" y="34.5" transform="scale(1)"/><text x="11.5" y="34.5" font-size="38" stroke="#c9e2bb" stroke-width="1.3" text-anchor="middle">6</text></g>
<g transform="translate(461.0,1166.6) rotate(-5.14)" fill="#c9e2bb"><use href="#one" x="-0.6" y="-7.3"/><rect x="-18" y="-2.5" width="36" height="5"/><use href="#one" x="-10.5" y="34.5" transform="scale(1)"/><text x="11.5" y="34.5" font-size="38" stroke="#c9e2bb" stroke-width="1.3" text-anchor="middle">6</text></g>
<g transform="translate(523.8,1160.1) rotate(-5.14)" fill="#c9e2bb"><use href="#one" x="-0.6" y="-7.3"/><rect x="-18" y="-2.5" width="36" height="5"/><use href="#one" x="-10.5" y="34.5" transform="scale(1)"/><text x="11.5" y="34.5" font-size="38" stroke="#c9e2bb" stroke-width="1.3" text-anchor="middle">6</text></g>
<g transform="translate(588.0,1155.7) rotate(-5.14)" fill="#c9e2bb"><use href="#one" x="-0.6" y="-7.3"/><rect x="-18" y="-2.5" width="36" height="5"/><use href="#one" x="-10.5" y="34.5" transform="scale(1)"/><text x="11.5" y="34.5" font-size="38" stroke="#c9e2bb" stroke-width="1.3" text-anchor="middle">6</text></g>
<g transform="translate(651.5,1152.6) rotate(-5.14)" fill="#c9e2bb"><use href="#one" x="-0.6" y="-7.3"/><rect x="-18" y="-2.5" width="36" height="5"/><use href="#one" x="-10.5" y="34.5" transform="scale(1)"/><text x="11.5" y="34.5" font-size="38" stroke="#c9e2bb" stroke-width="1.3" text-anchor="middle">6</text></g>
<g transform="translate(715.2,1147.0) rotate(-5.14)" fill="#c9e2bb"><use href="#one" x="-0.6" y="-7.3"/><rect x="-18" y="-2.5" width="36" height="5"/><use href="#one" x="-10.5" y="34.5" transform="scale(1)"/><text x="11.5" y="34.5" font-size="38" stroke="#c9e2bb" stroke-width="1.3" text-anchor="middle">6</text></g>
<g transform="translate(779.4,1141.8) rotate(-5.14)" fill="#c9e2bb"><use href="#one" x="-0.6" y="-7.3"/><rect x="-18" y="-2.5" width="36" height="5"/><use href="#one" x="-10.5" y="34.5" transform="scale(1)"/><text x="11.5" y="34.5" font-size="38" stroke="#c9e2bb" stroke-width="1.3" text-anchor="middle">6</text></g>
<g transform="translate(843.1,1135.3) rotate(-5.14)" fill="#c9e2bb"><use href="#one" x="-0.6" y="-7.3"/><rect x="-18" y="-2.5" width="36" height="5"/><use href="#one" x="-10.5" y="34.5" transform="scale(1)"/><text x="11.5" y="34.5" font-size="38" stroke="#c9e2bb" stroke-width="1.3" text-anchor="middle">6</text></g>
<g transform="translate(907.3,1128.7) rotate(-5.14)" fill="#c9e2bb"><use href="#one" x="-0.6" y="-7.3"/><rect x="-18" y="-2.5" width="36" height="5"/><use href="#one" x="-10.5" y="34.5" transform="scale(1)"/><text x="11.5" y="34.5" font-size="38" stroke="#c9e2bb" stroke-width="1.3" text-anchor="middle">6</text></g>
<g transform="translate(972.3,1123.1) rotate(-5.14)" fill="#c9e2bb"><use href="#one" x="-0.6" y="-7.3"/><rect x="-18" y="-2.5" width="36" height="5"/><use href="#one" x="-10.5" y="34.5" transform="scale(1)"/><text x="11.5" y="34.5" font-size="38" stroke="#c9e2bb" stroke-width="1.3" text-anchor="middle">6</text></g>
<g transform="translate(1035.1,1117.9) rotate(-5.14)" fill="#c9e2bb"><use href="#one" x="-0.6" y="-7.3"/><rect x="-18" y="-2.5" width="36" height="5"/><use href="#one" x="-10.5" y="34.5" transform="scale(1)"/><text x="11.5" y="34.5" font-size="38" stroke="#c9e2bb" stroke-width="1.3" text-anchor="middle">6</text></g>
<g transform="translate(1099.3,1111.4) rotate(-5.14)" fill="#c9e2bb"><use href="#one" x="-0.6" y="-7.3"/><rect x="-18" y="-2.5" width="36" height="5"/><use href="#one" x="-10.5" y="34.5" transform="scale(1)"/><text x="11.5" y="34.5" font-size="38" stroke="#c9e2bb" stroke-width="1.3" text-anchor="middle">6</text></g>
</g></svg></body></html>
